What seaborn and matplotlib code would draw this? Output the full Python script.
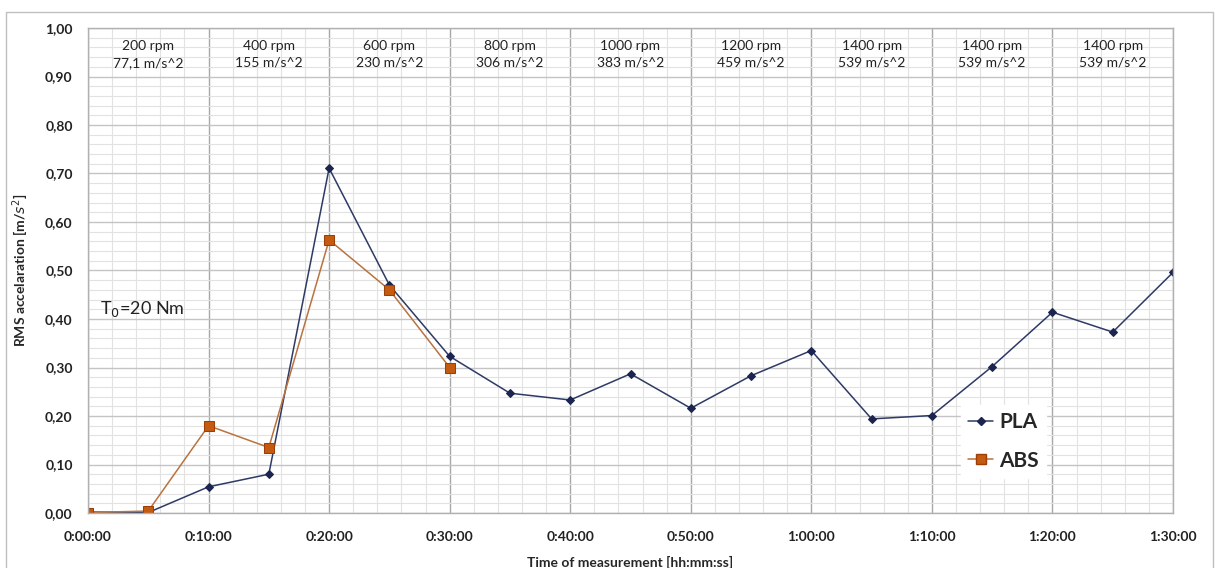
import numpy as np
import pandas as pd
import matplotlib
matplotlib.use("Agg")
import matplotlib.pyplot as plt
import seaborn as sns
from matplotlib.ticker import MultipleLocator, FuncFormatter
from matplotlib.patches import Rectangle
from matplotlib.lines import Line2D

# ---- data ----
minutes_pla = [0, 5, 10, 15, 20, 25, 30, 35, 40, 45, 50, 55, 60, 65, 70, 75, 80, 85, 90]
pla = [0.002, 0.001, 0.054, 0.080, 0.711, 0.470, 0.323, 0.247, 0.233, 0.287, 0.216,
       0.283, 0.335, 0.194, 0.201, 0.302, 0.414, 0.373, 0.496]
minutes_abs = [0, 5, 10, 15, 20, 25, 30]
abs_vals = [0.001, 0.004, 0.180, 0.135, 0.563, 0.460, 0.300]
cell_centers = [5, 15, 25, 35, 45, 55, 65, 75, 85]
speed_labels = ["200 rpm", "400 rpm", "600 rpm", "800 rpm", "1000 rpm", "1200 rpm",
                "1400 rpm", "1400 rpm", "1400 rpm"]
accel_labels = ["77,1 m/s^2", "155 m/s^2", "230 m/s^2", "306 m/s^2", "383 m/s^2",
                "459 m/s^2", "539 m/s^2", "539 m/s^2", "539 m/s^2"]

df = pd.concat([
    pd.DataFrame({"t": minutes_pla, "v": pla, "mat": "PLA"}),
    pd.DataFrame({"t": minutes_abs, "v": abs_vals, "mat": "ABS"}),
], ignore_index=True)

sns.set_theme(style="white")
plt.rcParams["font.family"] = ["Lato", "DejaVu Sans"]

fig = plt.figure(figsize=(12.15, 5.68), dpi=100)
ax = fig.add_axes([88 / 1215, 1 - 513 / 568, (1173 - 88) / 1215, (513 - 28) / 568])

# outer frame
fig.patches.append(Rectangle((6 / 1215, -0.05), (1213 - 6) / 1215, 1.05 - 12 / 568,
                             transform=fig.transFigure, fill=False,
                             edgecolor="#BFBFBF", lw=1.0))

pla_c = "#1B2550"
abs_c = "#C55A11"
sns.lineplot(data=df, x="t", y="v", hue="mat", style="mat",
             palette={"PLA": "#2E3A66", "ABS": "#B8733F"},
             markers={"PLA": "D", "ABS": "s"}, dashes=False,
             lw=1.1, ax=ax, legend=False, sort=False, estimator=None)
for line in ax.get_lines():
    if line.get_marker() == "D":
        line.set_markerfacecolor(pla_c)
        line.set_markeredgecolor(pla_c)
        line.set_markersize(4.5)
    elif line.get_marker() == "s":
        line.set_markerfacecolor(abs_c)
        line.set_markeredgecolor("#9C3F05")
        line.set_markersize(6.5)

ax.set_xlim(0, 90)
ax.set_ylim(0, 1.0)
ax.xaxis.set_major_locator(MultipleLocator(10))
ax.xaxis.set_minor_locator(MultipleLocator(2))
ax.yaxis.set_major_locator(MultipleLocator(0.1))
ax.yaxis.set_minor_locator(MultipleLocator(0.02))
ax.xaxis.set_major_formatter(FuncFormatter(lambda x, p: f"{int(x) // 60}:{int(x) % 60:02d}:00"))
ax.yaxis.set_major_formatter(FuncFormatter(lambda y, p: f"{y:.2f}".replace(".", ",")))
ax.grid(which="major", axis="x", color="#A8A8A8", lw=1.0)
ax.grid(which="major", axis="y", color="#C4C4C4", lw=1.0)
ax.grid(which="minor", color="#E2E2E2", lw=0.8)
ax.set_axisbelow(True)
for s in ax.spines.values():
    s.set_color("#B0B0B0")
    s.set_linewidth(1.0)
ax.tick_params(axis="both", which="both", length=0, labelsize=10, colors="#222222")
ax.tick_params(axis="x", pad=13)
ax.tick_params(axis="y", pad=11)
for lab in ax.get_xticklabels() + ax.get_yticklabels():
    lab.set_fontweight("bold")

ax.set_xlabel("Time of measurement [hh:mm:ss]", fontsize=10, fontweight="bold", labelpad=9)
ax.set_ylabel("RMS accelaration [m/$s^2$]", fontsize=10, fontweight="bold", labelpad=10)

for c, s1, s2 in zip(cell_centers, speed_labels, accel_labels):
    ax.text(c, 0.945, f"{s1}\n{s2}", ha="center", va="center", fontsize=10,
            color="#222222", linespacing=1.45)

ax.text(1.0, 0.42, "T$_0$=20 Nm", fontsize=13, ha="left", va="center", color="#222222")

handles = [Line2D([], [], color="#2E3A66", marker="D", markersize=4.5, mfc=pla_c, mec=pla_c, lw=1.1),
           Line2D([], [], color="#B8733F", marker="s", markersize=6.5, mfc=abs_c, mec="#9C3F05", lw=1.1)]
leg = ax.legend(handles, ["PLA", "ABS"], loc="upper left", bbox_to_anchor=(0.795, 0.245),
                frameon=True, fancybox=False, edgecolor="white", framealpha=1,
                prop={"weight": "bold", "size": 15}, handlelength=1.2, handletextpad=0.3,
                labelspacing=0.9, borderpad=0.35)

fig.savefig("out.png", dpi=100)
